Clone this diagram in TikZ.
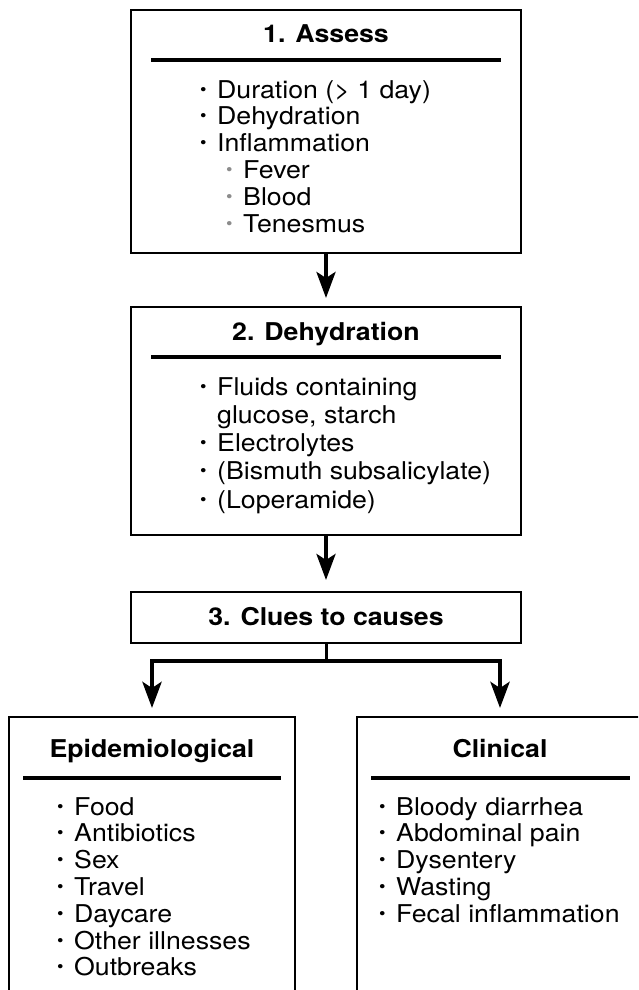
\documentclass[tikz,border=0pt]{standalone}
\usepackage{fontspec}
\setmainfont{TeX Gyre Heros}[FakeStretch=1.09]
\usetikzlibrary{arrows.meta}
\newcommand\bul{\makebox[17pt][l]{\fontsize{17}{17}\selectfont\raisebox{3pt}{\textbullet}}}
\newcommand\subbul{\hspace{26pt}\textcolor{black!45}{\bul}}
\newcommand\cont{\hspace{17pt}}
\begin{document}
\begin{tikzpicture}[x=1pt,y=-1pt,
  box/.style={draw, line width=2pt, inner sep=0pt, outer sep=0pt, anchor=north west},
  ttl/.style={anchor=base, inner sep=0pt, font=\fontsize{24.5}{26.8}\selectfont\bfseries},
  lst/.style={anchor=base west, inner sep=0pt, font=\fontsize{24.5}{26.8}\selectfont},
  lstw/.style={anchor=base west, inner sep=0pt, font=\fontsize{24.5}{28.3}\selectfont},
  hrule/.style={line width=4pt},
  tip/.style={-{Stealth[length=26pt,width=19pt,inset=6pt]}},
  conn/.style={line width=4pt, tip},
  branch/.style={line width=4.5pt, tip, shorten >=9pt},
]
\clip (0,0) rectangle (638,990);
\fill[white] (0,0) rectangle (638,990);
% boxes
\node[box, minimum width=390pt, minimum height=243pt] (b1) at (131,10) {};
\node[box, minimum width=390pt, minimum height=228pt] (b2) at (131,307) {};
\node[box, minimum width=390pt, minimum height=51pt] (b3) at (131,592) {};
\node[box, minimum width=286pt, minimum height=300pt] (bl) at (9,717) {};
\node[box, minimum width=286pt, minimum height=300pt] (br) at (357,717) {};
% header rules
\draw[hrule] (151,60) -- (501,60);
\draw[hrule] (151,357) -- (501,357);
\draw[hrule] (23,778) -- (281,778);
\draw[hrule] (371,778) -- (630,778);
% titles
\node[ttl] (t1) at (326,43) {1. Assess};
\node[ttl] (t2) at (326,340) {2. Dehydration};
\node[ttl] (t3) at (326,625) {3. Clues to causes};
\node[ttl] (tl) at (152,757) {Epidemiological};
\node[ttl] (tr) at (500,757) {Clinical};
% lists
\node[lst] (l1) at (200,98) {\begin{tabular}[t]{@{}l@{}}
\bul Duration (> 1 day)\\
\bul Dehydration\\
\bul Inflammation\\
\subbul Fever\\
\subbul Blood\\
\subbul Tenesmus
\end{tabular}};
\node[lstw] (l2) at (200,395) {\begin{tabular}[t]{@{}l@{}}
\bul Fluids containing\\
\cont glucose, starch\\
\bul Electrolytes\\
\bul (Bismuth subsalicylate)\\
\bul (Loperamide)
\end{tabular}};
\node[lst] (ll) at (57,815) {\begin{tabular}[t]{@{}l@{}}
\bul Food\\
\bul Antibiotics\\
\bul Sex\\
\bul Travel\\
\bul Daycare\\
\bul Other illnesses\\
\bul Outbreaks
\end{tabular}};
\node[lst] (lr) at (379,815) {\begin{tabular}[t]{@{}l@{}}
\bul Bloody diarrhea\\
\bul Abdominal pain\\
\bul Dysentery\\
\bul Wasting\\
\bul Fecal inflammation
\end{tabular}};
% connectors
\draw[conn, shorten >=9pt] (b1.south) -- (b2.north);
\draw[conn, shorten >=12pt] (b2.south) -- (b3.north);
\coordinate (j) at (326,661);
\draw[line width=3pt] (b3.south) -- (j);
\draw[branch] (j) -| (bl.north);
\draw[branch] (j) -| (br.north);
\end{tikzpicture}
\end{document}
